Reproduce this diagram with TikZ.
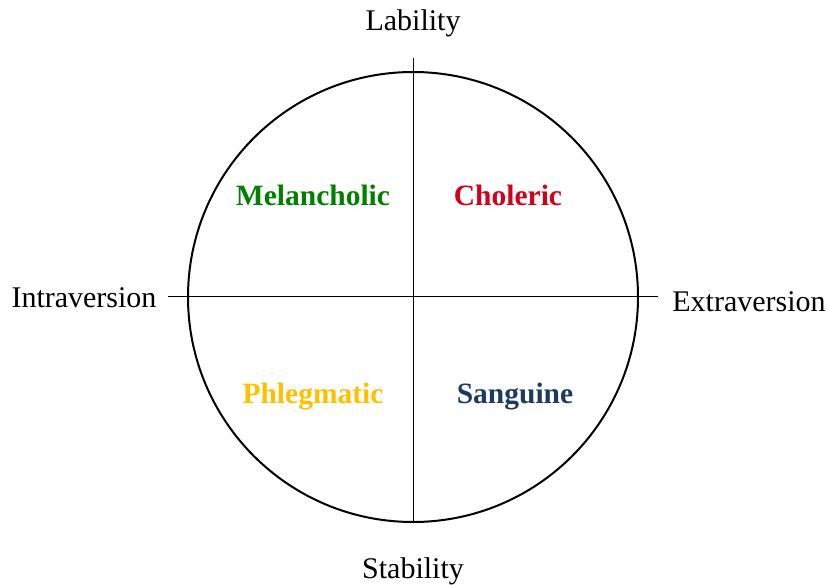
\documentclass[tikz,border=0pt]{standalone}
\usepackage{fontspec}
\setmainfont{Liberation Serif}
\usetikzlibrary{positioning}
\definecolor{melgreen}{RGB}{0,128,0}
\definecolor{cholred}{RGB}{208,2,27}
\definecolor{phlyellow}{RGB}{255,192,0}
\definecolor{sangblue}{RGB}{31,56,100}

\begin{document}
\begin{tikzpicture}[x=1pt ,y=-1pt ,
axis/.style ={font=\fontsize{30}{34}\selectfont , inner sep=0pt },
temper/.style ={font=\fontsize{29.5}{34}\selectfont\bfseries , inner sep=0pt }]
\useasboundingbox (0,0) rectangle (827,585);
\node (O) at (413,297) {};
\draw[line width=2pt] (O.center) circle (225);
\coordinate (T) at (413,58);
\coordinate (B) at (413,522);
\coordinate (L) at (168,297);
\coordinate (R) at (658,297);
\draw[line width=1pt] (T) -- (B);
\draw[line width=1pt] (L) -- (R);
\node[axis] (lab) at (413,23) {Lability};
\node[axis] (sta) at (413,571) {Stability};
\node[axis] (intra) at (84,298) {Intraversion};
\node[axis] (extra) at (749,302) {Extraversion};
\node[temper ,text=melgreen] (mel) at (313,195) {Melancholic};
\node[temper ,text=cholred] (cho) at (508,195) {Choleric};
\node[temper ,text=phlyellow] (phl) at (313,397) {Phlegmatic};
\node[temper ,text=sangblue] (san) at (515,397) {Sanguine};
\end{tikzpicture}
\end{document}
